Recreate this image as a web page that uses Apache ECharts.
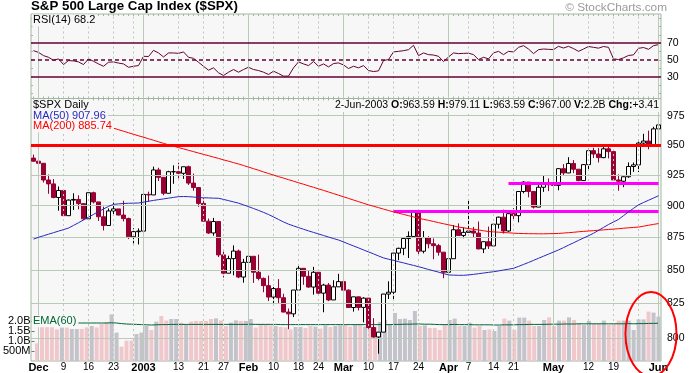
<!DOCTYPE html>
<html><head><meta charset="utf-8">
<script src="https://cdn.jsdelivr.net/npm/echarts@6/dist/echarts.min.js"></script>
<style>html,body{margin:0;padding:0;background:#fff}#c{width:694px;height:373px}</style>
</head><body><div id="c"></div>
<script>
const dates = ['2002-11-29',
'2002-12-02','2002-12-03','2002-12-04','2002-12-05','2002-12-06','2002-12-09','2002-12-10','2002-12-11','2002-12-12','2002-12-13','2002-12-16','2002-12-17','2002-12-18','2002-12-19','2002-12-20','2002-12-23','2002-12-24','2002-12-26','2002-12-27','2002-12-30','2002-12-31',
'2003-01-02','2003-01-03','2003-01-06','2003-01-07','2003-01-08','2003-01-09','2003-01-10','2003-01-13','2003-01-14','2003-01-15','2003-01-16','2003-01-17','2003-01-21','2003-01-22','2003-01-23','2003-01-24','2003-01-27','2003-01-28','2003-01-29','2003-01-30','2003-01-31',
'2003-02-03','2003-02-04','2003-02-05','2003-02-06','2003-02-07','2003-02-10','2003-02-11','2003-02-12','2003-02-13','2003-02-14','2003-02-18','2003-02-19','2003-02-20','2003-02-21','2003-02-24','2003-02-25','2003-02-26','2003-02-27','2003-02-28',
'2003-03-03','2003-03-04','2003-03-05','2003-03-06','2003-03-07','2003-03-10','2003-03-11','2003-03-12','2003-03-13','2003-03-14','2003-03-17','2003-03-18','2003-03-19','2003-03-20','2003-03-21','2003-03-24','2003-03-25','2003-03-26','2003-03-27','2003-03-28','2003-03-31',
'2003-04-01','2003-04-02','2003-04-03','2003-04-04','2003-04-07','2003-04-08','2003-04-09','2003-04-10','2003-04-11','2003-04-14','2003-04-15','2003-04-16','2003-04-17','2003-04-21','2003-04-22','2003-04-23','2003-04-24','2003-04-25','2003-04-28','2003-04-29','2003-04-30',
'2003-05-01','2003-05-02','2003-05-05','2003-05-06','2003-05-07','2003-05-08','2003-05-09','2003-05-12','2003-05-13','2003-05-14','2003-05-15','2003-05-16','2003-05-19','2003-05-20','2003-05-21','2003-05-22','2003-05-23','2003-05-27','2003-05-28','2003-05-29','2003-05-30',
'2003-06-02'];

const opens = [938.87,
936.31,934.53,920.75,917.58,906.55,912.23,892.00,904.45,904.96,901.58,889.48,910.40,902.99,891.12,884.25,895.76,897.38,892.47,889.66,875.40,879.39,
879.82,909.03,908.59,929.01,922.93,909.93,927.57,927.57,926.26,931.66,918.22,914.60,901.78,887.62,878.36,887.34,861.40,847.48,858.54,864.36,844.61,
855.70,860.32,848.20,843.59,838.15,829.69,835.97,829.20,818.68,817.37,834.89,851.17,845.13,837.10,848.17,832.58,838.57,827.55,837.28,
841.15,834.81,821.99,829.85,822.10,828.89,807.48,800.73,804.19,831.90,833.27,862.79,866.45,874.02,875.67,895.79,864.23,874.74,869.95,868.52,863.50,
848.18,858.48,880.90,876.45,878.85,879.93,878.29,865.99,871.58,868.30,885.23,890.81,879.91,893.58,892.01,911.37,919.02,911.43,898.81,914.84,917.84,
916.92,916.30,930.08,926.55,934.39,929.62,920.27,933.41,945.11,942.30,939.28,946.67,944.30,920.77,919.73,923.42,931.87,933.22,951.48,953.22,949.64,
963.59];

const highs = [941.82,
954.28,934.53,925.25,921.49,915.48,912.23,904.95,909.94,908.37,901.58,910.42,911.22,902.99,899.19,897.79,902.43,897.38,903.89,890.46,882.10,881.93,
909.03,911.25,931.77,930.81,922.93,928.31,932.89,935.05,931.66,932.59,926.03,914.60,906.00,889.74,890.25,887.34,863.95,860.76,868.72,865.48,858.33,
864.64,860.32,861.63,844.23,845.73,837.16,843.02,832.12,821.25,834.89,852.87,851.17,849.37,852.28,848.17,839.55,840.10,842.19,847.00,
852.34,835.43,829.87,829.85,829.55,828.89,814.25,804.19,832.02,841.39,862.79,866.94,874.99,879.60,895.90,895.79,879.87,875.80,874.15,869.88,863.50,
861.28,884.57,885.89,882.73,904.89,883.11,887.35,871.78,883.34,885.26,891.27,896.77,893.83,898.01,911.74,919.74,919.02,911.43,918.15,924.24,922.01,
919.68,930.56,933.88,939.61,937.22,929.62,933.77,946.84,947.51,947.29,948.23,948.65,944.30,925.34,923.85,935.30,935.20,952.76,959.39,962.08,965.38,
979.11];

const lows = [935.58,
927.72,918.73,909.51,905.90,895.96,891.97,892.00,896.48,897.00,888.48,889.48,901.74,887.82,880.32,884.25,892.26,892.29,887.48,873.62,870.23,869.45,
879.82,903.07,908.59,919.93,908.32,909.93,917.66,922.05,921.72,916.70,911.98,899.02,887.62,877.64,876.20,859.71,844.25,847.48,845.86,843.74,840.34,
855.70,840.19,842.11,833.25,826.70,823.53,825.09,818.49,806.29,815.03,834.89,838.79,836.56,831.48,832.16,818.54,826.68,827.55,837.28,
832.74,821.96,819.00,819.85,811.23,806.57,800.30,788.90,804.19,828.26,827.17,857.36,861.21,859.01,875.67,862.02,862.59,866.47,858.09,860.83,843.68,
847.85,858.48,876.12,874.23,878.85,874.68,865.72,862.76,865.92,868.30,881.85,877.93,879.20,888.17,886.70,909.89,906.69,897.71,898.81,911.10,911.70,
902.83,912.35,924.55,926.38,926.41,919.72,920.27,929.30,938.91,935.24,938.79,938.60,920.23,912.05,914.91,922.54,927.42,927.33,950.12,946.23,949.64,
963.59];

const closes = [936.31,
934.53,920.75,917.58,906.55,912.23,892.00,904.45,904.96,901.58,889.48,910.40,902.99,891.12,884.25,895.76,897.38,892.47,889.66,875.40,879.39,879.82,
909.03,908.59,929.01,922.93,909.93,927.57,927.57,926.26,931.66,918.22,914.60,901.78,887.62,878.36,887.34,861.40,847.48,858.54,864.36,844.61,855.70,
860.32,848.20,843.59,838.15,829.69,835.97,829.20,818.68,817.37,834.89,851.17,845.13,837.10,848.17,832.58,838.57,827.55,837.28,841.15,
834.81,821.99,829.85,822.10,828.89,807.48,800.73,804.19,831.90,833.27,862.79,866.45,874.02,875.67,895.79,864.23,874.74,869.95,868.52,863.50,848.18,
858.48,880.90,876.45,878.85,879.93,878.29,865.99,871.58,868.30,885.23,890.81,879.91,893.58,892.01,911.37,919.02,911.43,898.81,914.84,917.84,916.92,
916.30,930.08,926.55,934.39,929.62,920.27,933.41,945.11,942.30,939.28,946.67,944.30,920.77,919.73,923.42,931.87,933.22,951.48,953.22,949.64,963.59,
967.00];

// volume in billions
const volumes = [0.88,1.88,1.88,1.88,1.58,1.68,1.68,1.60,1.60,1.60,
1.68,1.75,1.68,1.85,1.95,2.33,1.42,0.72,1.02,1.02,
1.35,1.42,1.75,1.55,1.97,2.25,2.02,2.10,2.10,1.92,
1.80,1.97,2.00,2.00,2.00,2.10,2.13,2.03,1.75,1.92,
2.03,2.00,2.00,2.10,1.67,1.85,1.82,1.78,1.75,1.70,
1.68,1.58,1.70,1.70,1.65,1.75,1.72,1.62,1.78,1.70,
1.75,1.78,1.80,1.72,1.80,1.82,1.72,1.62,1.72,1.95,
2.05,1.85,2.40,2.10,2.12,2.05,2.50,1.75,1.78,1.65,
1.65,1.55,1.85,2.05,2.12,1.75,1.75,1.92,1.67,1.75,
1.55,1.58,1.50,1.75,2.12,2.02,1.55,2.17,2.17,2.02,
1.75,1.75,2.05,2.18,1.75,2.02,2.02,2.18,2.05,1.88,
1.80,2.00,1.88,1.88,2.02,1.80,1.85,2.02,2.02,2.02,
1.55,2.08,2.08,2.47,2.42,2.22];

const ema60 = [1.92,1.92,1.92,1.92,1.91,1.91,1.91,1.91,1.90,1.90,
1.90,1.90,1.90,1.90,1.90,1.91,1.90,1.87,1.85,1.84,
1.83,1.82,1.81,1.80,1.81,1.82,1.82,1.83,1.83,1.83,
1.83,1.83,1.83,1.83,1.83,1.83,1.83,1.83,1.83,1.83,
1.83,1.83,1.83,1.84,1.83,1.83,1.83,1.83,1.83,1.82,
1.82,1.82,1.82,1.82,1.82,1.82,1.82,1.82,1.82,1.82,
1.82,1.82,1.82,1.82,1.82,1.82,1.82,1.82,1.82,1.82,
1.82,1.82,1.83,1.83,1.84,1.84,1.85,1.85,1.84,1.84,
1.83,1.82,1.82,1.82,1.83,1.82,1.82,1.82,1.81,1.81,
1.81,1.81,1.80,1.80,1.81,1.81,1.81,1.82,1.82,1.83,
1.83,1.83,1.83,1.84,1.84,1.84,1.85,1.85,1.85,1.86,
1.86,1.86,1.86,1.86,1.86,1.86,1.86,1.86,1.86,1.87,
1.86,1.87,1.87,1.88,1.88,1.89];

const ma50 = [873.6,875.0,876.2,877.4,878.6,879.8,881.0,882.2,884.3,886.4,
888.6,890.8,893.0,895.2,897.3,899.4,901.0,901.4,901.7,901.9,
902.0,902.1,902.8,903.5,904.2,904.8,905.4,906.0,906.6,907.2,
907.3,907.2,906.9,906.5,906.3,906.2,906.0,905.9,905.0,904.0,
903.0,902.0,900.6,899.2,897.7,896.2,894.6,892.9,891.0,889.0,
887.0,885.3,883.9,882.6,881.3,880.0,878.8,877.6,876.4,875.2,
874.0,872.9,871.4,869.8,868.3,866.8,865.2,863.7,862.2,860.6,
859.1,858.1,857.2,856.2,855.3,854.3,853.4,852.4,851.4,850.3,
849.3,848.3,847.2,846.2,846.0,845.9,845.9,846.2,846.6,847.1,
847.6,848.1,848.6,849.2,849.9,850.5,851.2,852.6,854.1,855.6,
857.2,858.8,860.4,862.0,863.6,865.2,867.0,868.9,870.7,872.6,
874.4,876.2,878.1,880.4,882.7,885.0,887.0,889.0,892.0,895.0,
897.8,900.6,902.5,904.3,906.1,907.96];

const ma200 = [986.0,984.6,983.3,981.9,980.6,979.2,977.8,976.5,975.1,973.7,
972.4,971.0,969.6,968.2,966.9,965.5,964.2,962.9,961.6,960.3,
959.0,957.7,956.5,955.2,953.9,952.6,951.3,950.0,948.9,947.7,
946.6,945.4,944.3,943.1,942.0,940.9,939.7,938.6,937.4,936.3,
935.1,934.0,932.7,931.4,930.1,928.8,927.4,926.1,924.8,923.5,
922.3,921.0,919.8,918.5,917.3,916.0,914.8,913.5,912.3,911.0,
909.7,908.4,907.1,905.8,904.5,903.2,901.9,900.6,899.5,898.4,
897.2,896.1,895.0,894.0,893.0,892.0,891.0,890.0,889.1,888.3,
887.4,886.5,885.6,884.8,883.9,883.0,882.4,881.8,881.3,880.7,
880.1,879.5,879.2,879.0,878.7,878.5,878.2,878.0,877.9,877.8,
877.8,877.7,877.7,877.8,877.9,878.0,878.3,878.6,878.9,879.3,
879.6,879.9,880.2,880.5,880.8,881.1,881.4,881.7,882.1,882.4,
882.7,883.0,883.7,884.4,885.1,885.74];

const rsi = [61.0,59.0,55.1,53.1,49.5,51.2,44.4,49.2,48.8,47.6,
44.4,51.2,48.4,45.2,42.4,47.2,47.6,46.2,45.2,41.2,
42.4,43.2,54.3,54.0,61.4,58.3,53.5,58.3,58.3,57.8,
59.5,53.1,51.9,47.2,42.4,37.7,40.5,34.6,31.4,35.3,
38.5,35.3,38.5,41.2,38.5,37.3,35.3,32.6,36.5,33.7,
30.6,30.6,40.5,47.6,45.2,43.2,48.0,42.4,45.2,41.6,
45.6,46.4,44.0,39.7,42.4,40.5,43.2,37.3,36.1,36.9,
49.2,50.4,59.5,60.2,61.0,62.2,67.4,55.1,58.3,56.3,
55.8,54.3,48.0,53.5,58.3,57.5,57.8,58.0,56.3,50.4,
53.1,51.2,58.3,60.2,56.3,60.2,59.5,65.0,67.0,63.0,
57.5,62.2,63.0,62.6,62.3,66.2,64.2,66.2,63.5,60.2,
63.0,66.0,65.0,64.0,66.0,65.0,51.2,50.4,52.5,55.3,
56.0,63.8,64.8,62.6,67.0,68.2];

const priceTicks = [800,825,850,875,900,925,950,975];
const volumeTicks = [0.5,1,1.5,2];
const rsiLevels = [70,50,30];
const rsiMinorTicks = [10,20,30,40,50,60,70,80,90,100];
const monthStarts = ['2002-12-02','2003-01-02','2003-02-03','2003-03-03','2003-04-01','2003-05-01','2003-06-02'];
const weekLines = ['2002-12-09','2002-12-16','2002-12-23','2002-12-30','2003-01-13','2003-01-21','2003-01-27','2003-02-10','2003-02-18','2003-02-24','2003-03-10','2003-03-17','2003-03-24','2003-04-07','2003-04-14','2003-04-21','2003-05-12','2003-05-19','2003-05-27'];
const tickDates = ['2002-12-02','2002-12-09','2002-12-16','2002-12-23','2003-01-02','2003-01-13','2003-01-21','2003-01-27','2003-02-03','2003-02-10','2003-02-18','2003-02-24','2003-03-03','2003-03-10','2003-03-17','2003-03-24','2003-04-01','2003-04-07','2003-04-14','2003-04-21','2003-05-01','2003-05-12','2003-05-19','2003-06-02'];
const tickLabels = ['Dec','9','16','23','2003','13','21','27','Feb','10','18','24','Mar','10','17','24','Apr','7','14','21','May','12','19','Jun'];
const resistanceLevel = 950;
const supportLines = [ {from:'2003-03-17', to:'2003-06-02', level:895.8}, {from:'2003-04-17', to:'2003-06-02', level:918.0} ];

const FONT = '"Liberation Sans", Arial, Helvetica, sans-serif';
const gridColor = '#b9cab9';
const borderColor = '#a2b7a2';
const panelBg = '#f7f7f7';
const last = closes.length - 1;
const mNames = ['Jan','Feb','Mar','Apr','May','Jun','Jul','Aug','Sep','Oct','Nov','Dec'];
function fmtDate(s){ const p = s.split('-'); return (+p[2]) + '-' + mNames[+p[1]-1] + '-' + p[0]; }
const chg = closes[last] - closes[last-1];
const ohlcText = fmtDate(dates[last]) + ' {b|O:}' + opens[last].toFixed(2) + ' {b|H:}' + highs[last].toFixed(2) +
  ' {b|L:}' + lows[last].toFixed(2) + ' {b|C:}' + closes[last].toFixed(2) + ' {b|V:}' + volumes[last].toFixed(1) + 'B {b|Chg:}' + (chg>=0?'+':'') + chg.toFixed(2);

function vLines(){
  return monthStarts.map(d => ({xAxis:d, lineStyle:{color:gridColor, type:'solid', width:1}, label:{show:false}}))
    .concat(weekLines.map(d => ({xAxis:d, lineStyle:{color:gridColor, type:[2,3], width:1}, label:{show:false}})));
}

const chart = echarts.init(document.getElementById('c'), null, {renderer:'canvas'});

const rulerTick = {show:true, inside:true, length:2, interval:0, alignWithLabel:true, lineStyle:{color:borderColor, width:1}};
const catBase = {type:'category', data:dates, boundaryGap:true, splitLine:{show:false}};

const labelBox = (text, top, color) => ({text:text, left:32, top:top, padding:[0,2,1,1], backgroundColor:panelBg,
  textStyle:{fontSize:11, fontWeight:'normal', color:color, fontFamily:FONT}, z:10});

chart.setOption({
  animation:false,
  backgroundColor:'#ffffff',
  textStyle:{fontFamily:FONT},
  title:[
    {text:'S&P 500 Large Cap Index ($SPX)', left:31, top:0, padding:0, textStyle:{fontSize:13.3, fontWeight:'bold', color:'#000', fontFamily:FONT}, z:10},
    {text:'\u00a9 StockCharts.com', right:27, top:2, padding:0, textStyle:{fontSize:11.8, fontWeight:'normal', color:'#9a9a9a', fontFamily:FONT}, z:10},
    labelBox('RSI(14) ' + rsi[last].toFixed(1), 14.6, '#000'),
    labelBox('$SPX Daily', 99.6, '#000'),
    labelBox('MA(50) ' + ma50[last].toFixed(2), 110, '#2828c0'),
    labelBox('MA(200) ' + ma200[last].toFixed(2), 120.3, '#ff0000'),
    {text:ohlcText, right:34, top:100, padding:[0,1,1,2], backgroundColor:panelBg,
     textStyle:{fontSize:10.5, fontWeight:'normal', color:'#000', fontFamily:FONT,
       rich:{b:{fontSize:10.5, fontWeight:'bold', color:'#000', fontFamily:FONT}}}, z:10},
    labelBox('EMA(60)', 315.2, '#006633')
  ],
  grid:[
    {left:31, right:33, top:14, height:84.5, show:true, backgroundColor:panelBg, borderColor:borderColor, borderWidth:1},
    {left:31, right:33, top:98.5, height:262.5, show:true, backgroundColor:panelBg, borderColor:borderColor, borderWidth:1},
    {left:31, right:33, top:301, height:60, show:false}
  ],
  xAxis:[
    Object.assign({}, catBase, {gridIndex:0, position:'bottom', axisLine:{show:false}, axisTick:rulerTick, axisLabel:{show:false}}),
    Object.assign({}, catBase, {gridIndex:0, position:'top', axisLine:{show:false}, axisTick:rulerTick, axisLabel:{show:false}}),
    Object.assign({}, catBase, {gridIndex:1, position:'bottom', axisLine:{show:false}, axisTick:{show:false},
      axisLabel:{show:true, interval:0, margin:1, color:'#000',
        formatter:function(v){ const i = tickDates.indexOf(v); if(i<0) return ''; return monthStarts.indexOf(v)>=0 ? '{b|'+tickLabels[i]+'}' : '{n|'+tickLabels[i]+'}'; },
        rich:{b:{fontSize:11, fontWeight:'bold', color:'#000', fontFamily:FONT}, n:{fontSize:10, color:'#000', fontFamily:FONT}}}}),
    Object.assign({}, catBase, {gridIndex:1, position:'top', axisLine:{show:false}, axisTick:rulerTick, axisLabel:{show:false}}),
    Object.assign({}, catBase, {gridIndex:2, show:false})
  ],
  yAxis:[
    {type:'value', gridIndex:0, position:'left', min:3.9, max:104.8, axisLine:{show:false}, axisLabel:{show:false}, splitLine:{show:false},
     axisTick:{show:true, inside:true, length:2, customValues:rsiMinorTicks, lineStyle:{color:borderColor}}},
    {type:'value', gridIndex:0, position:'right', min:3.9, max:104.8, axisLine:{show:false}, axisLabel:{show:false}, splitLine:{show:false},
     axisTick:{show:true, inside:true, length:2, customValues:rsiMinorTicks, lineStyle:{color:borderColor}}},
    {type:'log', logBase:10, gridIndex:1, position:'right', min:783.8, max:990.0, axisLine:{show:false}, axisLabel:{show:false}, axisTick:{show:false}, splitLine:{show:false}},
    {type:'value', gridIndex:2, position:'left', min:0, max:3, interval:0.5, axisLine:{show:false}, splitLine:{show:false},
     axisTick:{show:true, length:3, customValues:volumeTicks, lineStyle:{color:'#777'}},
     axisLabel:{show:true, margin:4, fontSize:11, color:'#000', fontFamily:FONT,
       formatter:function(v){ if(volumeTicks.indexOf(v)<0) return ''; return v<1 ? (v*1000)+'M' : v.toFixed(1)+'B'; }}}
  ],
  series:[
    {type:'line', xAxisIndex:0, yAxisIndex:0, data:rsi, symbol:'none', silent:true, z:1, lineStyle:{opacity:0},
     markLine:{silent:true, symbol:['none','none'], animation:false, data:vLines()}},
    {type:'line', xAxisIndex:0, yAxisIndex:0, data:rsi, symbol:'none', silent:true, z:3, lineStyle:{color:'#660033', width:1},
     markLine:{silent:true, symbol:['none','none'], animation:false,
       data: rsiLevels.map(v => ({yAxis:v, lineStyle:{color:'#660033', width:1.5, type: v===50 ? [4,3] : 'solid'},
         label:{show:true, position:'end', distance:6, formatter:'{c}', color:'#000', fontSize:10.5, fontFamily:FONT}}))}},
    {type:'line', xAxisIndex:2, yAxisIndex:2, data:closes, symbol:'none', silent:true, z:1, lineStyle:{opacity:0},
     markLine:{silent:true, symbol:['none','none'], animation:false,
       data: priceTicks.map(v => ({yAxis:v, lineStyle:{color:gridColor, type:'solid', width:1},
         label:{show:true, position:'end', distance:6, formatter:'{c}', color:'#000', fontSize:10.5, fontFamily:FONT}})).concat(vLines())}},
    {type:'bar', xAxisIndex:4, yAxisIndex:3, z:2, barWidth:4, silent:true,
     data: volumes.map((v,i) => ({value:v, itemStyle:{color: closes[i] < opens[i] ? '#f0c8cc' : '#c4c2ca'}}))},
    {type:'line', xAxisIndex:4, yAxisIndex:3, z:3, data:ema60, symbol:'none', silent:true, lineStyle:{color:'#006633', width:1}},
    {type:'candlestick', xAxisIndex:2, yAxisIndex:2, z:4, barWidth:4, silent:true,
     data: closes.map((c,i) => [opens[i], c, lows[i], highs[i]]),
     itemStyle:{color:'#ffffff', color0:'#990033', borderColor:'#000000', borderColor0:'#990033', borderWidth:1}},
    {type:'line', xAxisIndex:2, yAxisIndex:2, z:5, data:ma200, symbol:'none', silent:true, lineStyle:{color:'#ff0000', width:1}},
    {type:'line', xAxisIndex:2, yAxisIndex:2, z:5, data:ma50, symbol:'none', silent:true, lineStyle:{color:'#2828c0', width:1}},
    {type:'line', xAxisIndex:2, yAxisIndex:2, data:closes, symbol:'none', silent:true, z:6, lineStyle:{opacity:0},
     markLine:{silent:true, symbol:['none','none'], animation:false, label:{show:false},
       data:[ {yAxis:resistanceLevel, lineStyle:{color:'#ff0000', width:3, type:'solid'}} ].concat(
         supportLines.map(s => [ {coord:[s.from, s.level], lineStyle:{color:'#ff00ff', width:3, type:'solid'}}, {coord:[s.to, s.level]} ]))}}
  ],
  graphic:[
    {type:'ellipse', z:50, silent:true, shape:{cx:651, cy:334, rx:25.5, ry:42}, style:{fill:'none', stroke:'#ff0000', lineWidth:2}}
  ]
});
</script></body></html>
